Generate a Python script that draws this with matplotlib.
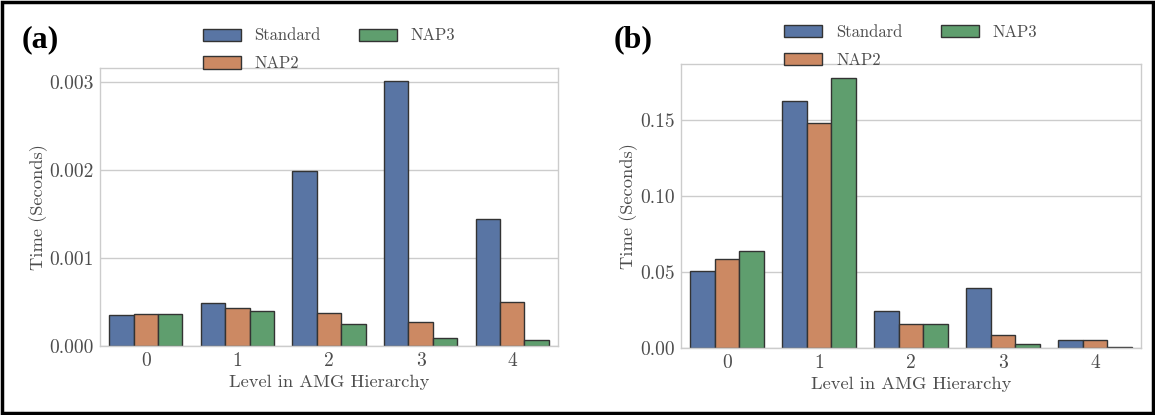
import os
import matplotlib
matplotlib.use("Agg")
import matplotlib.pyplot as plt
import matplotlib.font_manager as fm
import numpy as np
from matplotlib.ticker import FormatStrFormatter
from matplotlib.patches import Rectangle

levels = [0, 1, 2, 3, 4]
methods = ["Standard", "NAP2", "NAP3"]

# panel (a)
standard_a = [0.000357, 0.000489, 0.00199, 0.00301, 0.00144]
nap2_a = [0.000368, 0.000436, 0.000372, 0.000278, 0.000500]
nap3_a = [0.000365, 0.000398, 0.000248, 0.000094, 0.000071]
yticks_a = [0.000, 0.001, 0.002, 0.003]

# panel (b)
standard_b = [0.0509, 0.1623, 0.0245, 0.0395, 0.0053]
nap2_b = [0.0587, 0.1482, 0.0155, 0.0083, 0.0052]
nap3_b = [0.0640, 0.1778, 0.0155, 0.0024, 0.0007]
yticks_b = [0.00, 0.05, 0.10, 0.15]

colors = ["#5975a4", "#cc8963", "#5f9e6e"]
text_col = "0.3"

# computer modern look, like the latex-rendered original
cm_path = os.path.join(matplotlib.get_data_path(), "fonts", "ttf", "cmr10.ttf")
if os.path.exists(cm_path):
    fm.fontManager.addfont(cm_path)
    cm_name = fm.FontProperties(fname=cm_path).get_name()
    plt.rcParams["font.family"] = [cm_name, "DejaVu Serif"]
else:
    plt.rcParams["font.family"] = ["DejaVu Serif"]
plt.rcParams["axes.formatter.use_mathtext"] = True
plt.rcParams["mathtext.fontset"] = "cm"


def draw_panel(ax, series, yticks, fmt):
    width = 0.8 / len(series)
    x = np.arange(len(levels))
    for i, vals in enumerate(series):
        ax.bar(x - 0.4 + width * (i + 0.5), vals, width, color=colors[i],
               edgecolor="0.2", linewidth=1.0, label=methods[i], zorder=2)
    ax.set_xlim(-0.5, len(levels) - 0.5)
    top = max(max(v) for v in series) * 1.05
    ax.set_ylim(0, top)
    ax.set_xticks(x)
    ax.set_xticklabels([str(l) for l in levels])
    ax.set_yticks(yticks)
    ax.yaxis.set_major_formatter(FormatStrFormatter(fmt))
    ax.grid(axis="y", color="0.8", linewidth=1.0, zorder=0)
    ax.set_axisbelow(True)
    for s in ax.spines.values():
        s.set_color("0.8")
        s.set_linewidth(1.0)
    ax.tick_params(length=0, labelsize=14, colors=text_col)
    ax.tick_params(axis="y", pad=4.5)
    ax.tick_params(axis="x", pad=4.5)
    ax.set_xlabel("Level in AMG Hierarchy", fontsize=13.3, color=text_col, labelpad=3)
    ax.set_ylabel("Time (Seconds)", fontsize=13.3, color=text_col, labelpad=1)
    leg = ax.legend(loc="lower center", bbox_to_anchor=(0.5, 0.963), ncol=2,
                    frameon=False, fontsize=12, handlelength=2.28,
                    handleheight=0.75, handletextpad=0.84, columnspacing=2.28,
                    labelspacing=0.75, borderaxespad=0.0)
    for t in leg.get_texts():
        t.set_color(text_col)


fig = plt.figure(figsize=(11.55, 4.15), dpi=100)
ax1 = fig.add_axes([0.0866, 0.1663, 0.3965, 0.6707])
ax2 = fig.add_axes([0.5894, 0.1614, 0.3985, 0.6844])

draw_panel(ax1, [standard_a, nap2_a, nap3_a], yticks_a, "%.3f")
draw_panel(ax2, [standard_b, nap2_b, nap3_b], yticks_b, "%.2f")

fig.text(0.035, 0.905, "(a)", fontsize=23, fontweight="bold",
         family=["Liberation Serif"], ha="center", va="center")
fig.text(0.548, 0.905, "(b)", fontsize=23, fontweight="bold",
         family=["Liberation Serif"], ha="center", va="center")

fig.patches.append(Rectangle((0.002, 0.006), 0.996, 0.99, transform=fig.transFigure,
                             fill=False, edgecolor="black", linewidth=2.5))

fig.savefig("out.png", dpi=100)
